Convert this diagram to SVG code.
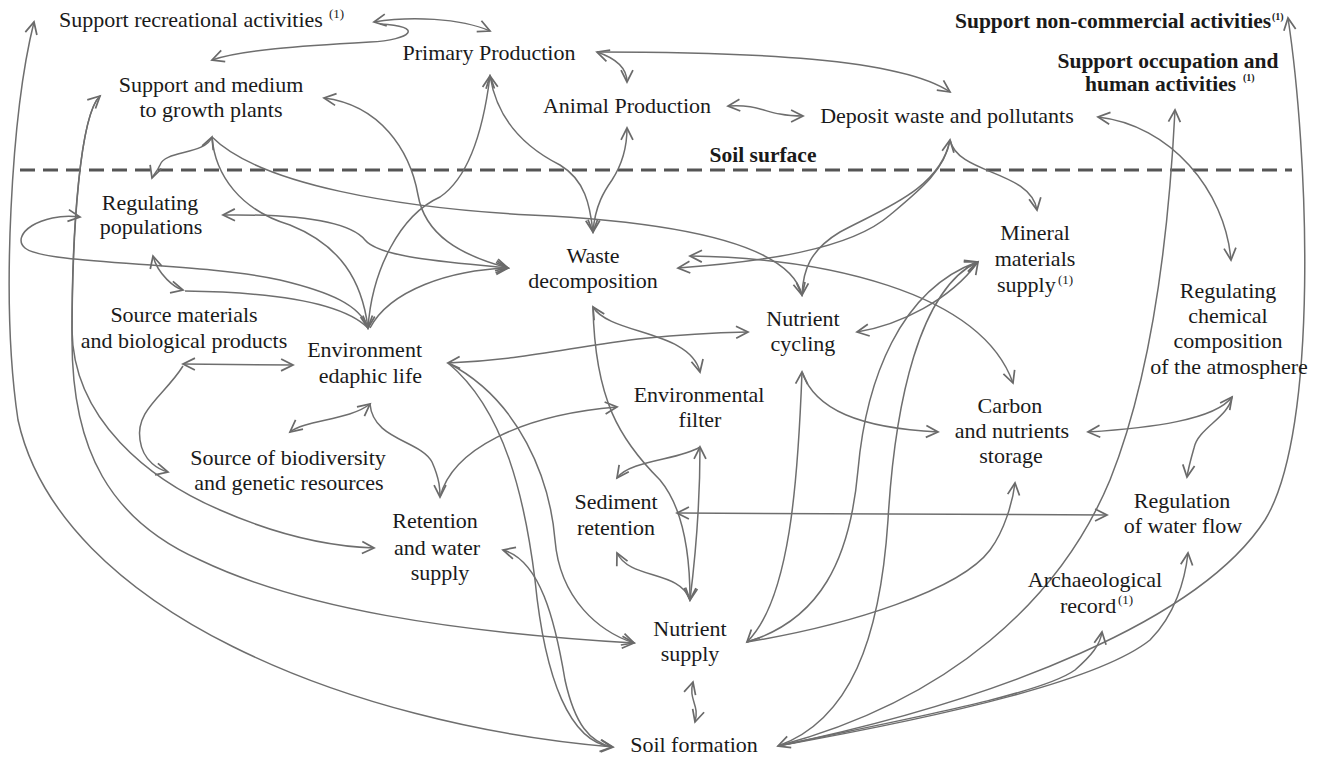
<svg xmlns="http://www.w3.org/2000/svg" width="1317" height="759" viewBox="0 0 1317 759">
<defs>
<marker id="a" viewBox="0 0 12 12" refX="11" refY="6" markerWidth="13" markerHeight="13" markerUnits="userSpaceOnUse" orient="auto-start-reverse" overflow="visible">
<path d="M0,0.5 L11,6 L0,11.5" fill="none" stroke="#6a6a6a" stroke-width="1.6" stroke-linejoin="miter"/>
</marker>
</defs>
<style>
.t{font-family:"Liberation Serif","Times New Roman",serif;font-size:22px;fill:#1a1a1a;text-anchor:middle}
.l{text-anchor:start}
.r{text-anchor:end}
.b{font-weight:bold;font-size:21.5px}
.sp{font-size:13px;text-anchor:start}
.sb{font-size:10px;font-weight:bold;text-anchor:start}
#connectors path{fill:none;stroke:#6e6e6e;stroke-width:1.5}
#connectors .ab{marker-start:url(#a);marker-end:url(#a)}
#connectors .e{marker-end:url(#a)}
#connectors .s{marker-start:url(#a)}
</style>
<rect width="1317" height="759" fill="#ffffff"/>

<line id="soil-line" x1="20" y1="170" x2="1292" y2="170" stroke="#555555" stroke-width="3" stroke-dasharray="15 8"/>

<g id="connectors">
<path class="ab" d="M 490 31 C 460 18, 410 16, 374 22"/>
<path class="e" d="M 380 24 C 425 26, 412 40, 370 42 C 300 46, 240 50, 212 60"/>
<path class="ab" d="M 597 52 C 615 58, 627 68, 627 82"/>
<path class="e" d="M 597 52 C 750 52, 900 58, 950 92"/>
<path class="ab" d="M 728 106 C 755 104, 765 112, 780 114 C 790 116, 795 116, 803 116"/>
<path class="ab" d="M 490 76 C 498 125, 530 150, 560 165 C 585 180, 590 205, 593 232"/>
<path class="ab" d="M 593 232 C 595 205, 605 190, 612 180 C 625 160, 627 140, 627 128"/>
<path class="ab" d="M 490 76 C 482 140, 465 180, 440 197 C 400 215, 372 270, 368 328"/>
<path class="ab" d="M 324 98 C 380 105, 410 150, 418 195 C 425 235, 460 255, 508 268"/>
<path class="ab" d="M 212 137 C 205 155, 165 150, 160 165 C 157 172, 153 175, 152 178"/>
<path class="e" d="M 212 137 C 215 175, 240 210, 290 225 C 340 245, 362 280, 368 328"/>
<path class="e" d="M 212 137 C 260 185, 400 208, 530 215 C 680 222, 790 245, 802 295"/>
<path class="ab" d="M 690 256 C 820 258, 980 290, 1013 383"/>
<path class="ab" d="M 678 268 C 760 262, 850 250, 890 215 C 920 190, 945 170, 950 140"/>
<path class="e" d="M 950 140 C 940 190, 880 210, 840 232 C 810 250, 803 270, 802 295"/>
<path class="e" d="M 950 140 C 958 175, 1030 170, 1037 210"/>
<path class="ab" d="M 1098 117 C 1170 125, 1225 190, 1231 260"/>
<path class="ab" d="M 857 332 C 900 325, 950 300, 978 262"/>
<path class="s" d="M 80 217 C 40 212, 10 235, 25 248 C 45 265, 200 262, 280 280 C 330 292, 360 305, 368 328"/>
<path class="ab" d="M 153 256 C 158 275, 175 288, 183 290"/>
<path d="M 185 291 C 260 292, 340 300, 368 328"/>
<path class="ab" d="M 223 215 C 300 214, 350 222, 365 240 C 380 258, 450 262, 508 268"/>
<path class="e" d="M 370 328 C 390 290, 450 270, 508 268"/>
<path class="ab" d="M 183 364 L 293 365"/>
<path class="e" d="M 183 366 C 165 395, 135 410, 140 440 C 143 462, 160 470, 168 472"/>
<path class="ab" d="M 290 432 C 305 420, 350 420, 370 404"/>
<path class="e" d="M 370 404 C 373 440, 420 440, 432 462 C 440 480, 440 490, 440 497"/>
<path class="e" d="M 440 497 C 452 450, 520 415, 617 407"/>
<path class="ab" d="M 448 363 C 560 358, 600 335, 748 332"/>
<path class="e" d="M 448 363 C 520 400, 550 480, 555 540 C 560 600, 600 632, 634 643"/>
<path class="e" d="M 448 363 C 505 410, 525 500, 535 580 C 545 680, 570 742, 612 747"/>
<path class="s" d="M 503 550 C 540 560, 555 620, 565 680 C 575 725, 590 742, 612 747"/>
<path class="ab" d="M 593 307 C 610 335, 690 330, 700 372"/>
<path class="e" d="M 593 307 C 595 400, 620 440, 660 480 C 685 510, 690 560, 690 600"/>
<path class="ab" d="M 700 447 C 700 500, 695 560, 690 600"/>
<path class="s" d="M 617 478 C 630 460, 680 460, 700 447"/>
<path class="s" d="M 617 553 C 630 580, 680 570, 690 600"/>
<path class="ab" d="M 677 513 L 1107 515"/>
<path class="ab" d="M 802 372 C 798 480, 790 600, 747 642"/>
<path class="e" d="M 802 372 C 815 410, 860 428, 938 432"/>
<path class="e" d="M 747 642 C 850 625, 960 590, 990 550 C 1005 530, 1013 500, 1015 483"/>
<path class="e" d="M 747 642 C 820 620, 850 560, 858 470 C 866 380, 900 290, 977 262"/>
<path class="ab" d="M 778 746 C 850 720, 880 640, 888 520 C 895 400, 920 290, 977 262"/>
<path class="e" d="M 778 746 C 950 700, 1060 600, 1110 480 C 1150 380, 1168 250, 1175 110"/>
<path class="e" d="M 778 746 C 1000 700, 1200 620, 1265 520 C 1320 430, 1308 150, 1288 18"/>
<path class="e" d="M 778 746 C 950 715, 1100 680, 1150 640 C 1175 615, 1185 580, 1188 553"/>
<path class="e" d="M 778 746 C 900 720, 1040 695, 1075 670 C 1092 655, 1100 645, 1102 632"/>
<path class="ab" d="M 693 682 C 688 700, 700 705, 695 722"/>
<path class="ab" d="M 613 747 C 350 725, 60 610, 18 420 C 0 300, 12 110, 34 22"/>
<path class="ab" d="M 100 96 C 80 115, 72 230, 72 330 C 73 420, 150 480, 220 510 C 270 532, 320 546, 374 548"/>
<path class="e" d="M 100 96 C 80 115, 72 230, 72 340 C 72 450, 110 520, 200 560 C 300 608, 450 632, 634 643"/>
<path class="ab" d="M 1088 432 C 1150 428, 1215 420, 1232 397"/>
<path class="e" d="M 1232 397 C 1228 418, 1198 428, 1194 448 C 1190 462, 1188 470, 1187 477"/>
</g>

<g id="soil-surface"><text class="t b" x="763" y="162">Soil surface</text></g>
<g id="support-recreational"><text class="t l" x="59" y="27">Support recreational activities</text><text class="t sp" x="329" y="18">(1)</text></g>
<g id="primary-production"><text class="t" x="489" y="60">Primary Production</text></g>
<g id="support-medium"><text class="t" x="211" y="92">Support and medium</text><text class="t" x="211" y="117">to growth plants</text></g>
<g id="animal-production"><text class="t" x="627" y="113">Animal Production</text></g>
<g id="deposit-waste"><text class="t" x="947" y="123">Deposit waste and pollutants</text></g>
<g id="support-noncommercial"><text class="t b l" x="955" y="28">Support non-commercial activities</text><text class="t sb" x="1272" y="20">(1)</text></g>
<g id="support-occupation"><text class="t b" x="1168" y="68">Support occupation and</text><text class="t b l" x="1085" y="91">human activities</text><text class="t sb" x="1243" y="81">(1)</text></g>
<g id="regulating-populations"><text class="t" x="150" y="210">Regulating</text><text class="t" x="151" y="234">populations</text></g>
<g id="waste-decomposition"><text class="t" x="593" y="263">Waste</text><text class="t" x="593" y="288">decomposition</text></g>
<g id="mineral-materials"><text class="t" x="1035" y="240">Mineral</text><text class="t" x="1035" y="266">materials</text><text class="t l" x="997" y="292">supply</text><text class="t sp" x="1058" y="284">(1)</text></g>
<g id="source-materials"><text class="t" x="184" y="322">Source materials</text><text class="t" x="184" y="348">and biological products</text></g>
<g id="environment-edaphic"><text class="t r" x="422" y="357">Environment</text><text class="t r" x="422" y="383">edaphic life</text></g>
<g id="nutrient-cycling"><text class="t" x="803" y="326">Nutrient</text><text class="t" x="803" y="351">cycling</text></g>
<g id="regulating-chemical"><text class="t" x="1228" y="298">Regulating</text><text class="t" x="1228" y="323">chemical</text><text class="t" x="1228" y="348">composition</text><text class="t" x="1229" y="374">of the atmosphere</text></g>
<g id="environmental-filter"><text class="t" x="699" y="402">Environmental</text><text class="t" x="700" y="427">filter</text></g>
<g id="carbon-storage"><text class="t" x="1010" y="413">Carbon</text><text class="t" x="1012" y="438">and nutrients</text><text class="t" x="1011" y="463">storage</text></g>
<g id="source-biodiversity"><text class="t" x="288" y="465">Source of biodiversity</text><text class="t" x="289" y="490">and genetic resources</text></g>
<g id="sediment-retention"><text class="t" x="616" y="509">Sediment</text><text class="t" x="616" y="535">retention</text></g>
<g id="regulation-water"><text class="t" x="1182" y="508">Regulation</text><text class="t" x="1183" y="533">of water flow</text></g>
<g id="retention-water"><text class="t" x="435" y="528">Retention</text><text class="t" x="437" y="555">and water</text><text class="t" x="440" y="580">supply</text></g>
<g id="archaeological-record"><text class="t" x="1095" y="587">Archaeological</text><text class="t l" x="1060" y="613">record</text><text class="t sp" x="1118" y="604">(1)</text></g>
<g id="nutrient-supply"><text class="t" x="690" y="636">Nutrient</text><text class="t" x="690" y="661">supply</text></g>
<g id="soil-formation"><text class="t" x="694" y="752">Soil formation</text></g>
</svg>
